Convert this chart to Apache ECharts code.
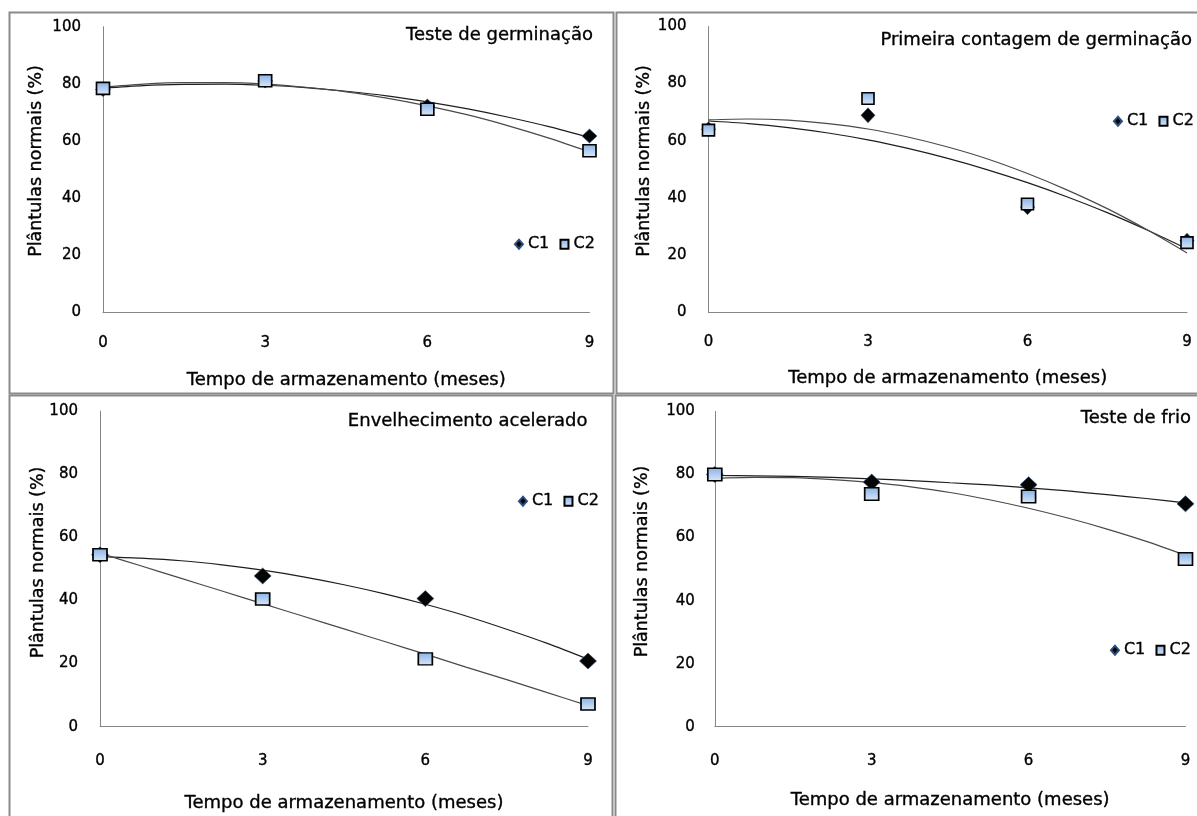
<!DOCTYPE html>
<html><head><meta charset="utf-8">
<script src="https://cdn.jsdelivr.net/npm/echarts@6/dist/echarts.min.js"></script>
<style>html,body{margin:0;padding:0;background:#fff}#chart{width:1197px;height:816px}</style>
</head><body><div id="chart"></div>
<script>
// ---- data ----
const months = [0, 3, 6, 9];
const trendMonths = [0, 0.75, 1.5, 2.25, 3, 3.75, 4.5, 5.25, 6, 6.75, 7.5, 8.25, 9];
const seriesNames = ['C1', 'C2'];
const panelTitles = ['Teste de germinação', 'Primeira contagem de germinação', 'Envelhecimento acelerado', 'Teste de frio'];
const xAxisTitle = 'Tempo de armazenamento (meses)';
const yAxisTitle = 'Plântulas normais (%)';

const germC1 = [78.0, 81.0, 72.2, 61.7];
const germC2 = [78.4, 81.1, 71.1, 56.6];
const germTrendC1 = [78.5, 79.4, 79.8, 79.9, 79.5, 78.7, 77.4, 75.8, 73.7, 71.2, 68.3, 65.0, 61.2];
const germTrendC2 = [78.8, 79.9, 80.4, 80.4, 79.9, 78.8, 77.2, 75.0, 72.3, 69.1, 65.3, 61.0, 56.2];

const pcgC1 = [64.0, 68.9, 36.7, 25.0];
const pcgC2 = [63.7, 74.8, 37.8, 24.3];
const pcgTrendC1 = [66.9, 66.0, 64.6, 62.7, 60.3, 57.3, 53.8, 49.8, 45.3, 40.3, 34.8, 28.7, 22.1];
const pcgTrendC2 = [67.3, 67.6, 67.2, 66.0, 64.1, 61.3, 57.8, 53.6, 48.5, 42.7, 36.2, 28.8, 20.7];

const eaC1 = [54.5, 47.8, 40.6, 20.8];
const eaC2 = [54.5, 40.5, 21.5, 7.2];
const eaTrendC1 = [53.9, 53.4, 52.6, 51.3, 49.6, 47.5, 45.0, 42.1, 38.8, 35.1, 30.9, 26.4, 21.4];
const eaTrendC2 = [55.0, 51.0, 47.0, 43.0, 39.0, 35.0, 31.0, 27.0, 23.0, 18.9, 14.9, 10.8, 6.7];

const frioC1 = [80.0, 77.6, 76.8, 70.7];
const frioC2 = [80.0, 73.8, 73.0, 53.2];
const frioTrendC1 = [79.7, 79.6, 79.4, 79.1, 78.6, 78.1, 77.4, 76.7, 75.8, 74.8, 73.6, 72.4, 71.0];
const frioTrendC2 = [78.8, 79.1, 79.0, 78.4, 77.5, 76.1, 74.3, 72.0, 69.3, 66.2, 62.7, 58.8, 54.4];

// ---- layout ----
const FONT = '"DejaVu Sans"';
const panels = [
  {c1: germC1, c2: germC2, t1: germTrendC1, t2: germTrendC2,
   grid: {left: 103, top: 26.7, width: 486.5, height: 285.6}, xMargin: 23, yMargin: 22, xGap: 58.7,
   titlePos: [593, 35], yTitlePos: [36.4, 161], legend: {right: 602, top: 236}, dia: [15, 14], sq: [13, 12]},
  {c1: pcgC1, c2: pcgC2, t1: pcgTrendC1, t2: pcgTrendC2,
   grid: {left: 708.5, top: 26.5, width: 478.5, height: 285.5}, xMargin: 23, yMargin: 22, xGap: 57,
   titlePos: [1192, 40], yTitlePos: [644, 161], legend: {right: 3, top: 113}, dia: [14, 15], sq: [12, 11.5]},
  {c1: eaC1, c2: eaC2, t1: eaTrendC1, t2: eaTrendC2,
   grid: {left: 100, top: 411.2, width: 488, height: 315.5}, xMargin: 27, yMargin: 22, xGap: 67.3,
   titlePos: [587.5, 421.7], yTitlePos: [38.3, 562.5], legend: {right: 598, top: 493}, dia: [17, 16], sq: [14, 12]},
  {c1: frioC1, c2: frioC2, t1: frioTrendC1, t2: frioTrendC2,
   grid: {left: 714.8, top: 411.5, width: 470.7, height: 315.2}, xMargin: 27, yMargin: 20, xGap: 64.3,
   titlePos: [1191, 418.3], yTitlePos: [642, 561.5], legend: {right: 6, top: 642}, dia: [17, 16], sq: [14, 12.5]}
];
const boxes = [
  [9.5, 12.5, 604, 381],
  [616.5, 12.5, 620, 381],
  [9.5, 395.5, 603, 460],
  [615.5, 395.5, 620, 460]
];

const sqFill = new echarts.graphic.LinearGradient(0, 0, 0, 1, [
  {offset: 0, color: '#86b1e6'}, {offset: 1, color: '#dde9f8'}
]);
const axisColor = '#868686';
const heavy = {textBorderColor: '#000', textBorderWidth: 0.35};

const grids = [], xAxes = [], yAxes = [], series = [], legends = [], graphics = [];
boxes.forEach(b => graphics.push({
  type: 'rect', silent: true, z: -10,
  shape: {x: b[0], y: b[1], width: b[2], height: b[3]},
  style: {fill: 'none', stroke: '#8a8a8a', lineWidth: 2}
}));

panels.forEach((p, i) => {
  grids.push(Object.assign({containLabel: false}, p.grid));
  xAxes.push({
    type: 'value', gridIndex: i, min: 0, max: 9, interval: 3,
    name: xAxisTitle, nameLocation: 'middle', nameGap: p.xGap,
    nameTextStyle: Object.assign({fontFamily: FONT, fontSize: 18, color: '#000'}, heavy),
    axisLine: {show: true, lineStyle: {color: axisColor, width: 1}},
    axisTick: {show: false}, splitLine: {show: false},
    axisLabel: Object.assign({margin: p.xMargin, fontFamily: FONT, fontSize: 15, color: '#000'}, heavy)
  });
  yAxes.push({
    type: 'value', gridIndex: i, min: 0, max: 100, interval: 20,
    axisLine: {show: true, lineStyle: {color: axisColor, width: 1}},
    axisTick: {show: false}, splitLine: {show: false},
    axisLabel: Object.assign({margin: p.yMargin, fontFamily: FONT, fontSize: 15, color: '#000'}, heavy)
  });
  series.push({
    name: 'Tendência C1', type: 'line', xAxisIndex: i, yAxisIndex: i, silent: true,
    data: trendMonths.map((m, k) => [m, p.t1[k]]), smooth: 0.3, showSymbol: false, z: 2,
    lineStyle: {color: '#1e1e1e', width: 1.2}
  });
  series.push({
    name: 'Tendência C2', type: 'line', xAxisIndex: i, yAxisIndex: i, silent: true,
    data: trendMonths.map((m, k) => [m, p.t2[k]]), smooth: 0.3, showSymbol: false, z: 2,
    lineStyle: {color: '#4a4a4a', width: 1.2}
  });
  series.push({
    name: seriesNames[0], type: 'scatter', xAxisIndex: i, yAxisIndex: i, z: 3,
    data: months.map((m, k) => [m, p.c1[k]]), symbol: 'diamond', symbolSize: p.dia,
    itemStyle: {color: '#050505', borderColor: '#2d4f80', borderWidth: 0.6, opacity: 1}
  });
  series.push({
    name: seriesNames[1], type: 'scatter', xAxisIndex: i, yAxisIndex: i, z: 4,
    data: months.map((m, k) => [m, p.c2[k]]), symbol: 'rect', symbolSize: p.sq,
    itemStyle: {color: sqFill, borderColor: '#000', borderWidth: 1.6, opacity: 1}
  });
  legends.push({
    right: p.legend.right, top: p.legend.top, orient: 'horizontal', padding: 0,
    itemWidth: 8, itemHeight: 9, itemGap: 10, selectedMode: false,
    textStyle: Object.assign({fontFamily: FONT, fontSize: 16, color: '#000'}, heavy),
    data: [{name: seriesNames[0], icon: 'diamond'}, {name: seriesNames[1], icon: 'rect'}]
  });
  graphics.push({
    type: 'text', x: p.titlePos[0], y: p.titlePos[1], silent: true,
    style: {text: panelTitles[i], fill: '#000', font: '18px ' + FONT,
            stroke: '#000', lineWidth: 0.35,
            align: 'right', verticalAlign: 'middle'}
  });
  graphics.push({
    type: 'text', x: p.yTitlePos[0], y: p.yTitlePos[1], rotation: Math.PI / 2, silent: true,
    style: {text: yAxisTitle, fill: '#000', font: '17.5px ' + FONT,
            stroke: '#000', lineWidth: 0.35,
            align: 'center', verticalAlign: 'middle'}
  });
});

const chart = echarts.init(document.getElementById('chart'));
chart.setOption({
  animation: false,
  backgroundColor: '#fff',
  grid: grids, xAxis: xAxes, yAxis: yAxes, series: series,
  legend: legends, graphic: graphics
});
</script></body></html>
